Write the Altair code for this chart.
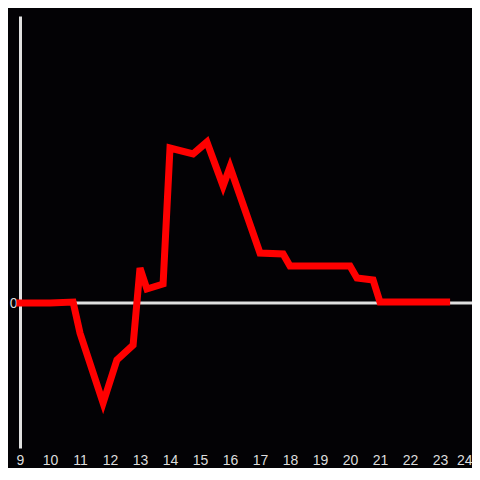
import altair as alt
import pandas as pd

hours = [9.0, 10.0, 10.77, 11.0, 11.77, 12.23, 12.77, 13.0, 13.23, 13.77, 14.0, 14.77,
         15.0, 15.23, 15.77, 16.0, 17.0, 17.77, 18.0, 20.0, 20.23, 20.77, 21.0, 23.22]
values = [0, 0, 1, -30, -100, -57, -42, 35, 14, 19, 155, 149,
          155, 161, 117, 136, 50, 49, 37, 37, 25, 23, 1, 1]
x_ticks = list(range(9, 25))
y_ticks = [0]

df = pd.DataFrame({"hour": hours, "value": values})
zero = pd.DataFrame({"value": [0]})

xs = alt.Scale(domain=[9, 24.0667], nice=False, zero=False)
ys = alt.Scale(domain=[-145, 287], nice=False, zero=False)

rule = alt.Chart(zero).mark_rule(color="#e0e0e0", strokeWidth=3).encode(
    y=alt.Y("value:Q", scale=ys)
)

line = alt.Chart(df).mark_line(color="#ff0000", strokeWidth=7, strokeCap="square",
                               clip=False).encode(
    x=alt.X("hour:Q", scale=xs, title=None,
            axis=alt.Axis(values=x_ticks, domain=False, ticks=False, grid=False,
                          labelColor="#dddddd", labelFontSize=14, labelPadding=5,
                          labelFont="Liberation Sans", labelFlush=False,
                          labelAlign={"condition": {"test": "datum.value === 24", "value": "right"},
                                      "value": "center"},
                          labelOffset={"condition": {"test": "datum.value === 24", "value": 2},
                                       "value": 0})),
    y=alt.Y("value:Q", scale=ys, title=None,
            axis=alt.Axis(values=y_ticks, domain=True, domainColor="#e0e0e0", domainWidth=3,
                          ticks=False, grid=False, labelColor="#dddddd", labelFontSize=14,
                          labelPadding=3, labelFont="Liberation Sans")),
)

chart = alt.layer(rule, line).properties(
    width=452, height=432, background="#030205",
    autosize=alt.AutoSizeParams(type="none"),
    padding={"left": 12, "top": 8, "right": 0, "bottom": 20},
).configure_view(stroke=None)

chart.save("out.html", embed_options={"renderer": "svg", "actions": False})
